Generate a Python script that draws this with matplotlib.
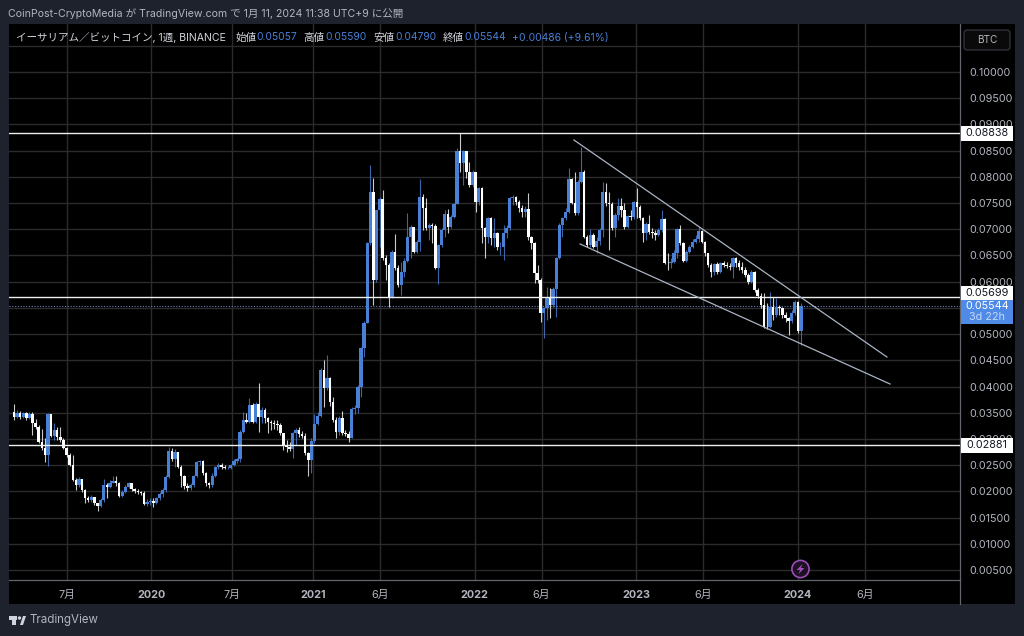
import matplotlib
matplotlib.use('Agg')
import matplotlib.pyplot as plt
import matplotlib.dates as mdates
from matplotlib.patches import Rectangle, Circle, Polygon, FancyBboxPatch
import pandas as pd

plt.rcParams['font.family'] = ['Inter', 'Noto Sans CJK JP', 'DejaVu Sans']

# Weekly candles (ETH/BTC)
first_open = 0.03521
closes = [.03425,.03502,.03412,.03489,.03393,.03476,.03298,.03234,.02948,.02821,.02694,.03476,.03056,.03171,.03031,.02980,.02821,.02694,.02503,.02217,
          .02121,.02230,.02026,.01867,.01835,.01886,.01772,.01721,.01835,.02121,.02090,.02166,.02204,.02153,.01912,.01994,.02090,.02153,.02039,.02007,
          .01994,.01962,.01759,.01803,.01822,.01772,.01867,.01950,.02026,.02268,.02776,.02611,.02757,.02471,.02293,.02102,.02058,.02121,.02293,.02567,
          .02586,.02357,.02153,.02121,.02293,.02458,.02503,.02458,.02439,.02439,.02503,.02586,.02611,.03138,.03361,.03329,.03647,.03329,.03666,.03425,
          .03552,.03393,.03329,.03297,.03285,.03266,.03107,.02884,.02852,.02801,.03107,.03170,.03094,.03062,.02725,.02598,.02967,.03285,.03437,.04315,
          .03965,.04156,.03711,.03361,.03138,.03393,.03119,.03094,.03011,.03565,.03584,.03997,.04728,.05218,.06732,.07717,.06032,.07368,.07577,.06445,
          .06318,.05714,.06573,.06255,.05937,.06191,.06401,.06859,.07037,.06573,.06763,.07622,.07399,.07018,.07081,.07062,.06255,.06700,.06986,.07291,
          .07050,.07228,.07482,.08500,.08258,.08500,.08099,.07845,.08099,.07527,.07781,.07018,.06859,.07209,.06827,.06935,.06655,.06668,.06922,.07018,
          .07590,.07622,.07527,.07399,.07336,.07387,.06859,.06732,.06159,.06032,.05396,.05491,.05682,.05555,.05854,.06445,.07081,.07209,.07336,.07953,
          .07507,.07304,.07908,.08099,.06859,.06700,.06891,.06668,.06783,.06986,.07717,.07495,.07482,.07018,.07272,.07444,.07368,.07050,.07253,.07228,
          .07527,.07431,.07209,.06922,.07101,.06954,.06922,.06891,.06986,.07190,.06363,.06350,.06382,.06553,.06998,.06732,.06401,.06573,.06668,.06763,
          .06808,.06967,.06763,.06541,.06318,.06191,.06331,.06191,.06350,.06318,.06305,.06274,.06445,.06350,.06274,.06223,.06127,.06000,.06191,.05841,
          .05733,.05555,.05142,.05129,.05523,.05364,.05523,.05504,.05364,.05301,.05256,.05409,.05619,.05057,.05544]
highs = [.03667,.03552,.03540,.03521,.03521,.03521,.03521,.03374,.03266,.03184,.03012,.03489,.03298,.03298,.03234,.03222,.03012,.02840,.02726,.02694,
         .02249,.02268,.02230,.02039,.01912,.01931,.01848,.01784,.01867,.02230,.02153,.02217,.02293,.02293,.02185,.02026,.02121,.02185,.02166,.02058,
         .02039,.02013,.02013,.01848,.01867,.01867,.01899,.01994,.02058,.02312,.02840,.02821,.02802,.02757,.02503,.02312,.02153,.02153,.02312,.02586,
         .02598,.02598,.02376,.02185,.02344,.02484,.02548,.02535,.02503,.02484,.02522,.02611,.02630,.03170,.03520,.03488,.03774,.03679,.03711,.04061,
         .03615,.03584,.03425,.03361,.03361,.03361,.03297,.03119,.02979,.02948,.03138,.03202,.03221,.03157,.03107,.02757,.03011,.03475,.03520,.04347,
         .04506,.04601,.04188,.03806,.03425,.03437,.03539,.03170,.03157,.03603,.03647,.04029,.04760,.05256,.06763,.08226,.07972,.07368,.07622,.07749,
         .06509,.06350,.06604,.06910,.06318,.06382,.06445,.07304,.07081,.07050,.06795,.07953,.07673,.07590,.07113,.07113,.07100,.06719,.07018,.07368,
         .07380,.07272,.07507,.08544,.08830,.08512,.08480,.08290,.08131,.08099,.07813,.07800,.07050,.07241,.07228,.07209,.06954,.06763,.07081,.07081,
         .07622,.07654,.07635,.07558,.07463,.07444,.07686,.06872,.06763,.06318,.06064,.05523,.05905,.05873,.05905,.06477,.07113,.07241,.07399,.08163,
         .07972,.08099,.07940,.08563,.08131,.06891,.06998,.06922,.06846,.07018,.07908,.07876,.07717,.07527,.07304,.07590,.07590,.07495,.07272,.07368,
         .07546,.07781,.07463,.07228,.07145,.07272,.07018,.06986,.07018,.07368,.07209,.06541,.06445,.06604,.07018,.07081,.06763,.06604,.06700,.06808,
         .06891,.07050,.06986,.06783,.06554,.06350,.06363,.06382,.06382,.06401,.06382,.06350,.06477,.06477,.06414,.06382,.06274,.06159,.06223,.06210,
         .05873,.05778,.05778,.05587,.05809,.05714,.05682,.05555,.05523,.05428,.05333,.05460,.05650,.05638,.05590]
lows = [.03362,.03393,.03374,.03393,.03362,.03374,.03075,.03184,.02929,.02789,.02567,.02484,.03031,.02980,.02980,.02948,.02802,.02662,.02484,.02204,
        .02026,.02090,.01994,.01772,.01803,.01803,.01740,.01632,.01708,.01803,.01867,.02058,.02153,.02102,.01886,.01899,.01963,.02058,.02013,.01975,
        .01950,.01931,.01740,.01721,.01740,.01695,.01759,.01835,.01899,.01994,.02249,.02586,.02459,.02439,.02090,.02039,.02013,.02026,.02090,.02268,
        .02503,.02312,.02102,.02058,.02090,.02268,.02420,.02433,.02420,.02420,.02420,.02484,.02548,.02566,.03107,.03297,.03310,.03297,.03310,.03138,
        .03310,.03310,.03107,.03170,.03183,.03170,.03075,.02789,.02757,.02776,.02630,.02884,.03043,.03011,.02693,.02293,.02343,.02929,.03266,.03425,
        .03616,.03933,.03628,.03329,.03011,.03075,.03075,.03056,.02948,.03011,.03475,.03488,.03806,.04569,.05205,.06700,.05555,.05999,.06668,.06414,
        .06032,.05523,.05682,.06223,.05905,.05746,.06096,.06382,.06445,.06554,.06541,.06592,.06986,.06986,.06795,.06732,.06236,.05956,.06668,.06859,
        .06922,.07018,.07209,.07482,.08099,.07845,.07972,.07813,.07813,.07336,.07463,.06732,.06445,.06732,.06700,.06668,.06605,.06509,.06414,.06827,
        .06986,.07463,.07463,.07336,.07228,.07240,.06795,.06617,.05968,.05968,.05237,.04919,.05269,.05301,.05523,.05333,.06426,.06859,.07177,.07304,
        .07482,.07272,.07272,.07876,.06827,.06655,.06668,.06636,.06554,.06700,.06859,.07444,.06605,.06986,.06859,.07177,.07228,.06998,.07018,.07177,
        .07190,.07209,.07177,.06763,.06795,.06910,.06827,.06795,.06872,.06954,.06337,.06223,.06255,.06350,.06445,.06700,.06382,.06382,.06541,.06636,
        .06732,.06763,.06732,.06490,.06286,.06096,.06127,.06147,.06159,.06274,.06255,.06223,.06064,.06286,.06223,.06172,.06096,.05956,.05968,.05809,
        .05682,.05491,.05110,.05091,.05110,.05269,.05333,.05364,.05301,.05237,.04982,.05218,.05364,.05014,.04790]

# Levels, trend lines and axis ticks
levels = [0.08838, 0.05699, 0.02881]
last_price = 0.05544
upper_dates = ['2022-08-13', '2024-07-20']
upper_prices = [0.08703, 0.04563]
lower_dates = ['2022-08-27', '2024-07-27']
lower_prices = [0.06719, 0.04048]
price_ticks = [0.005 * i for i in range(1, 22)]
hidden_ticks = [11, 21]  # the 0.055 label sits under the price tag, 0.105 under the BTC button
date_ticks = ['2019-06-26', '2020-01-01', '2020-07-01', '2021-01-01', '2021-06-01', '2022-01-01',
              '2022-06-01', '2023-01-01', '2023-06-01', '2024-01-01', '2024-06-01']
date_labels = ['7月', '2020', '7月', '2021', '6月', '2022', '6月', '2023', '6月', '2024', '6月']

BG = '#1e222d'
UP = '#4a7fd6'
DOWN = '#ffffff'
GRID = '#2b2b2d'
TEXT = '#b2b5be'

opens = [first_open] + closes[:-1]
dates = pd.date_range(end='2024-01-08', periods=len(closes), freq='7D')
colors = [UP if c >= o else DOWN for o, c in zip(opens, closes)]
heights = [abs(c - o) for o, c in zip(opens, closes)]
bottoms = [min(o, c) for o, c in zip(opens, closes)]
is_up = [c >= o for o, c in zip(opens, closes)]

fig = plt.figure(figsize=(10.24, 6.36), dpi=100, facecolor=BG)

# black panel behind the chart and both axes
back = fig.add_axes([0, 0, 1, 1])
back.set_xlim(0, 1024)
back.set_ylim(636, 0)
back.axis('off')
back.add_patch(Rectangle((9, 24), 1006, 580, color='#000000', lw=0))

ax = fig.add_axes([9 / 1024, (636 - 580) / 636, 951 / 1024, 556 / 636], facecolor='#000000')
ax.set_xlim(mdates.date2num(pd.Timestamp('2019-02-14')), mdates.date2num(pd.Timestamp('2025-01-01')))
ax.set_ylim(0.00309, 0.10916)
ax.set_axisbelow(True)
ax.grid(True, color=GRID, lw=1.0)

ax.vlines(dates, lows, highs, colors=colors, lw=0.8, alpha=0.8, zorder=3)
# white bodies first, the blue ones a little wider on top
down_idx = [i for i, up in enumerate(is_up) if not up]
up_idx = [i for i, up in enumerate(is_up) if up]
ax.bar(dates[down_idx], [heights[i] for i in down_idx], bottom=[bottoms[i] for i in down_idx],
       width=5.6, color=DOWN, lw=0, zorder=4)
ax.bar(dates[up_idx], [heights[i] for i in up_idx], bottom=[bottoms[i] for i in up_idx],
       width=7.4, color=UP, lw=0, zorder=4.5)

for level in levels:
    ax.axhline(level, color='#eeeeee', lw=1.0, zorder=5)
ax.axhline(last_price, color='#6a7fc0', lw=0.8, ls=(0, (1, 1.5)), zorder=2)

ax.plot(pd.to_datetime(upper_dates), upper_prices, color='#a9b4c2', lw=0.9, zorder=6)
ax.plot(pd.to_datetime(lower_dates), lower_prices, color='#a9b4c2', lw=0.9, zorder=6)

ax.yaxis.tick_right()
ax.set_yticks(price_ticks)
ax.set_yticklabels(['' if i in hidden_ticks else f'{p:.5f}' for i, p in enumerate(price_ticks, 1)],
                   fontsize=7.8, color=TEXT)
ax.set_xticks(pd.to_datetime(date_ticks))
ax.set_xticklabels(date_labels, fontsize=7.8, color=TEXT)
for label in ax.get_xticklabels():
    if label.get_text().startswith('20'):
        label.set_fontweight('bold')
ax.tick_params(axis='both', length=0, pad=7)
for name, spine in ax.spines.items():
    spine.set_visible(name in ('right', 'bottom'))
    spine.set_color('#62656c')
    spine.set_linewidth(0.9)

# overlay in pixel coordinates for header, tags and footer
ov = fig.add_axes([0, 0, 1, 1])
ov.set_xlim(0, 1024)
ov.set_ylim(636, 0)
ov.axis('off')
ov.patch.set_alpha(0)

ov.plot([960, 960], [580, 604], color='#62656c', lw=0.9)
ov.text(8, 14, 'CoinPost-CryptoMedia が TradingView.com で 1月 11, 2024 11:38 UTC+9 に公開',
        fontsize=7.6, color=TEXT, va='center')

header = [(16, 'イーサリアム／ビットコイン, 1週, BINANCE', 7.6, '#d1d4dc'), (235, '始値', 7.6, '#d1d4dc'), (256, '0.05057', 7.4, UP),
          (303, '高値', 7.6, '#d1d4dc'), (325, '0.05590', 7.4, UP), (373, '安値', 7.6, '#d1d4dc'), (395, '0.04790', 7.4, UP),
          (443, '終値', 7.6, '#d1d4dc'), (464, '0.05544', 7.4, UP), (512, '+0.00486 (+9.61%)', 7.5, UP)]
for x, text, size, color in header:
    ov.text(x, 37.5, text, fontsize=size, color=color, va='center')

ov.add_patch(FancyBboxPatch((964, 30), 46, 20, boxstyle='round,pad=0,rounding_size=3', fc='#0a0a0a', ec='#3a3d45', lw=0.8))
ov.text(987, 40, 'BTC', fontsize=7.2, color=TEXT, ha='center', va='center')

for level, ytop in zip(levels, [126, 285.5, 438]):
    ov.add_patch(Rectangle((961, ytop), 52, 14.5, color='#ffffff', lw=0))
    ov.text(987, ytop + 7.5, f'{level:.5f}', fontsize=7.8, color='#131722', ha='center', va='center')
ov.add_patch(Rectangle((961, 300), 52, 24, color='#4e8ae6', lw=0))
ov.text(987, 306, f'{last_price:.5f}', fontsize=7.8, color='#ffffff', ha='center', va='center')
ov.text(987, 317.5, '3d 22h', fontsize=7.8, color='#c4d8f5', ha='center', va='center')

# purple bolt marker
ov.add_patch(Circle((800.5, 569), 8.6, fc='#1d1024', ec='#9c4db3', lw=1.2))
ov.add_patch(Polygon([(802.5, 564), (796.5, 570), (800, 570), (798.5, 574), (804.5, 568), (801, 568)], color='#9c4db3', lw=0))

# TradingView footer
ov.add_patch(Rectangle((9, 616), 8, 3.5, color='#d1d4dc', lw=0))
ov.add_patch(Rectangle((12, 616), 4, 9, color='#d1d4dc', lw=0))
ov.add_patch(Circle((19.5, 618), 1.7, color='#d1d4dc', lw=0))
ov.add_patch(Polygon([(20, 625), (23, 616), (26, 616), (23, 625)], color='#d1d4dc', lw=0))
ov.text(30, 620.5, 'TradingView', fontsize=8.3, color=TEXT, va='center')

fig.savefig('out.png', dpi=100, facecolor=BG)
